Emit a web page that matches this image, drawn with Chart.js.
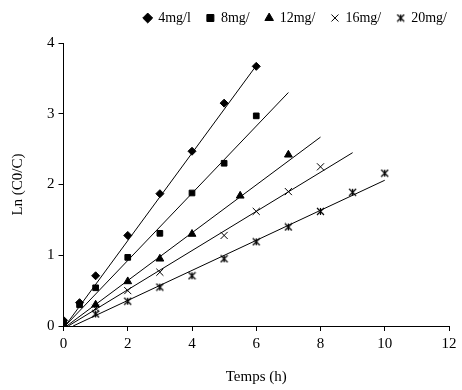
<!DOCTYPE html>
<html>
<head>
<meta charset="utf-8">
<script src="https://cdn.jsdelivr.net/npm/chart.js@4"></script>
<style>
  body { margin: 0; background: #fff; }
  #wrap { width: 462px; height: 390px; }
</style>
</head>
<body>
<div id="wrap"><canvas id="kineticChart"></canvas></div>
<script>
// donnees : Ln(C0/C) en fonction du temps
const labels = ['4mg/l', '8mg/', '12mg/', '16mg/', '20mg/'];

const t4 = [0, 0.5, 1, 2, 3, 4, 5, 6];
const y4 = [0.08, 0.33, 0.71, 1.28, 1.87, 2.47, 3.15, 3.67];

const t8 = [0, 0.5, 1, 2, 3, 4, 5, 6];
const y8 = [0.05, 0.30, 0.54, 0.97, 1.31, 1.88, 2.30, 2.97];

const t12 = [0, 1, 2, 3, 4, 5.5, 7];
const y12 = [0.03, 0.30, 0.63, 0.95, 1.30, 1.84, 2.42];

const t16 = [0, 1, 2, 3, 5, 6, 7, 8];
const y16 = [0.02, 0.25, 0.50, 0.76, 1.28, 1.62, 1.90, 2.25];

const t20 = [0, 1, 2, 3, 4, 5, 6, 7, 8, 9, 10];
const y20 = [0.00, 0.17, 0.35, 0.55, 0.71, 0.95, 1.19, 1.40, 1.62, 1.89, 2.16];

// droites de tendance (debut et fin)
const fitX = [[0.05, 6], [0.05, 7], [0.1, 8], [0.15, 9], [0.3, 10]];
const fitY = [[0, 3.68], [0, 3.30], [0, 2.67], [0, 2.45], [0, 2.06]];

const xTicks = [0, 2, 4, 6, 8, 10, 12];
const yTicks = [0, 1, 2, 3, 4];

// asterisque : croix + trait vertical
function asteriskImage(size) {
    const c = document.createElement('canvas');
    c.width = size; c.height = size;
    const g = c.getContext('2d');
    g.strokeStyle = '#000';
    g.lineWidth = 1.2;
    const m = 1, e = size - 1, h = size / 2;
    g.beginPath();
    g.moveTo(m, m); g.lineTo(e, e);
    g.moveTo(e, m); g.lineTo(m, e);
    g.moveTo(h, m); g.lineTo(h, e);
    g.stroke();
    return c;
}
const asterisk = asteriskImage(9);

const toPts = (xs, ys) => xs.map((x, i) => ({ x: x, y: ys[i] }));

const seriesX = [t4, t8, t12, t16, t20];
const seriesY = [y4, y8, y12, y16, y20];
const styles = ['rectRot', 'rect', 'triangle', 'crossRot', asterisk];
const radii = [4, 4, 4.5, 5, 5];

const datasets = [];
labels.forEach((lab, i) => {
    datasets.push({
        label: lab,
        data: toPts(seriesX[i], seriesY[i]),
        pointStyle: styles[i],
        pointRadius: radii[i],
        backgroundColor: '#000',
        borderColor: '#000',
        borderWidth: 1,
        showLine: false
    });
});
fitX.forEach((xs, i) => {
    datasets.push({
        label: 'fit',
        data: toPts(xs, fitY[i]),
        showLine: true,
        borderColor: '#000',
        borderWidth: 1,
        pointRadius: 0
    });
});

const serif = "'Liberation Serif', 'Times New Roman', serif";
const axisFont = { family: serif, size: 15 };

// decale la legende (plus haut, plus a droite) comme sur l'original
const legendShift = {
    id: 'legendShift',
    afterLayout(chart) {
        const lg = chart.legend;
        lg.top -= 8; lg.bottom -= 8;
        lg.left += 14; lg.right += 14;
    }
};

new Chart(document.getElementById('kineticChart'), {
    type: 'scatter',
    data: { datasets: datasets },
    plugins: [legendShift],
    options: {
        responsive: true,
        maintainAspectRatio: false,
        animation: false,
        layout: { padding: { left: 5, right: 13, top: 3, bottom: 0 } },
        plugins: {
            tooltip: { enabled: false },
            legend: {
                display: true,
                position: 'top',
                align: 'end',
                labels: {
                    filter: item => item.text !== 'fit',
                    usePointStyle: true,
                    boxWidth: 7,
                    boxHeight: 7,
                    padding: 16,
                    color: '#000',
                    font: { family: serif, size: 14 }
                }
            }
        },
        scales: {
            x: {
                type: 'linear',
                min: 0,
                max: 12,
                afterBuildTicks: axis => { axis.ticks = xTicks.map(v => ({ value: v })); },
                ticks: { color: '#000', font: axisFont, padding: 4 },
                grid: { drawOnChartArea: false, drawTicks: true, tickLength: 5, color: '#000' },
                border: { color: '#000', width: 1 },
                title: { display: true, text: 'Temps (h)', color: '#000', font: axisFont, padding: { top: 11 } }
            },
            y: {
                type: 'linear',
                min: 0,
                max: 4,
                afterBuildTicks: axis => { axis.ticks = yTicks.map(v => ({ value: v })); },
                ticks: { color: '#000', font: axisFont, padding: 4 },
                grid: { drawOnChartArea: false, drawTicks: true, tickLength: 5, color: '#000' },
                border: { color: '#000', width: 1 },
                title: { display: true, text: 'Ln (C0/C)', color: '#000', font: axisFont, padding: { bottom: 16 } }
            }
        }
    }
});
</script>
</body>
</html>
